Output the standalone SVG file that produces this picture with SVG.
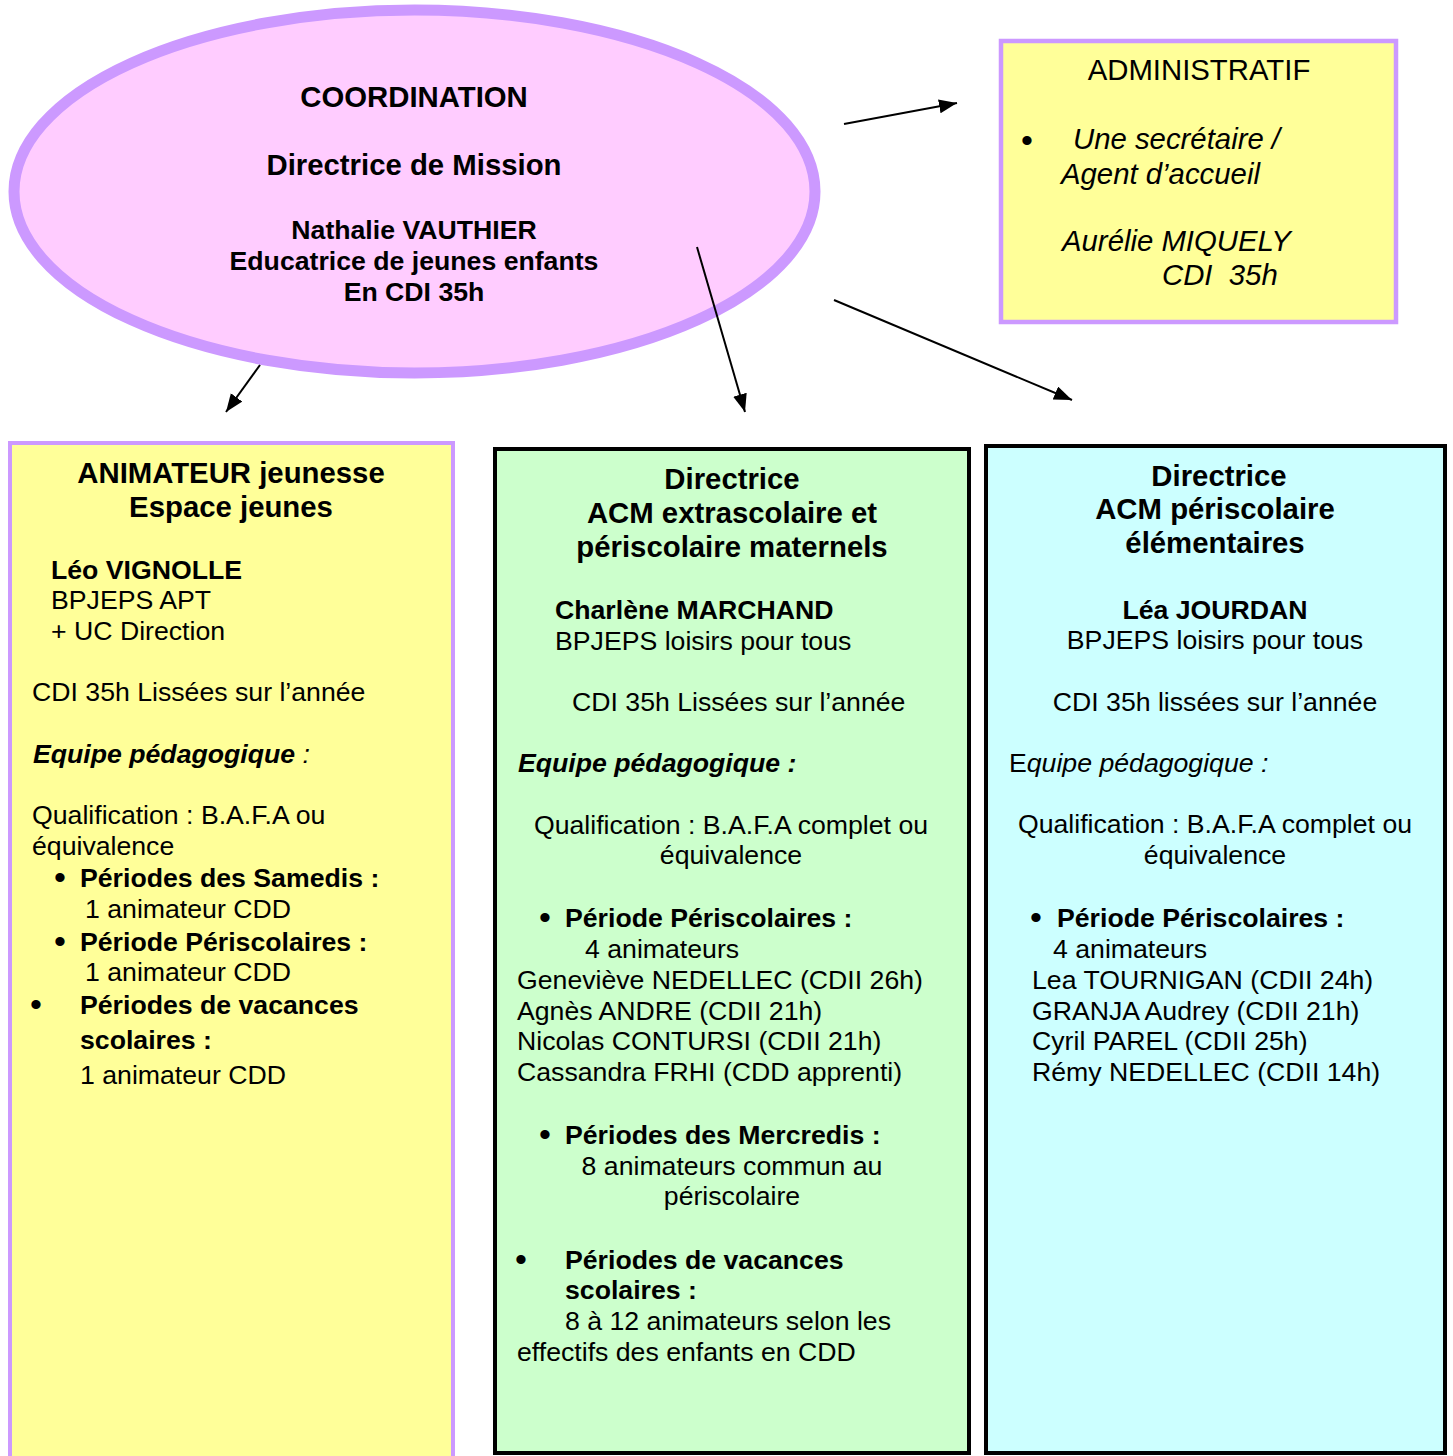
<svg xmlns="http://www.w3.org/2000/svg" width="1453" height="1456" viewBox="0 0 1453 1456">
<style>
text{font-family:"Liberation Sans",Arial,sans-serif;fill:#000}
.t{font-size:29.33px;font-weight:bold}
.n{font-size:26.67px}
.b{font-size:26.67px;font-weight:bold}
.bi{font-size:26.67px;font-weight:bold;font-style:italic}
.i{font-size:26.67px;font-style:italic}
.ai{font-size:29.33px;font-style:italic}
.a{font-size:29.33px}
.bl{font-size:34px}
.m{text-anchor:middle}
.pre{white-space:pre}
.conn line{stroke:#000;stroke-width:2;marker-end:url(#ah)}
</style>
<defs>
<marker id="ah" markerUnits="userSpaceOnUse" markerWidth="20" markerHeight="16" refX="18" refY="7" orient="auto">
<path d="M0,0 L18,7 L0,14 z" fill="#000"/>
</marker>
</defs>
<rect width="1453" height="1456" fill="#fff"/>

<g id="coordination">
<ellipse cx="414.5" cy="191.5" rx="400.5" ry="181.5" fill="#FFCCFF" stroke="#CC99FF" stroke-width="11"/>
<text class="t m" x="414" y="107">COORDINATION</text>
<text class="t m" x="414" y="175">Directrice de Mission</text>
<text class="b m" x="414" y="239">Nathalie VAUTHIER</text>
<text class="b m" x="414" y="270">Educatrice de jeunes enfants</text>
<text class="b m" x="414" y="301">En CDI 35h</text>
</g>

<g id="administratif">
<rect x="1001" y="41" width="395" height="281" fill="#FFFF99" stroke="#CC99FF" stroke-width="4.5"/>
<text class="a m" x="1199" y="80">ADMINISTRATIF</text>
<text class="bl" x="1021" y="152">•</text>
<text class="ai" x="1073" y="149">Une secrétaire /</text>
<text class="ai" x="1061" y="184">Agent d’accueil</text>
<text class="ai" x="1062" y="251">Aurélie MIQUELY</text>
<text class="ai pre" x="1162" y="285" xml:space="preserve">CDI  35h</text>
</g>

<g id="animateur">
<rect x="10" y="443" width="443" height="1030" fill="#FFFF99" stroke="#CC99FF" stroke-width="4"/>
<text class="t m" x="231" y="483">ANIMATEUR jeunesse</text>
<text class="t m" x="231" y="517">Espace jeunes</text>
<text class="b" x="51" y="579">Léo VIGNOLLE</text>
<text class="n" x="51" y="609">BPJEPS APT</text>
<text class="n" x="51" y="640">+ UC Direction</text>
<text class="n" x="32" y="701">CDI 35h Lissées sur l’année</text>
<text x="33" y="763"><tspan class="bi">Equipe pédagogique</tspan><tspan class="i"> :</tspan></text>
<text class="n" x="32" y="824">Qualification : B.A.F.A ou</text>
<text class="n" x="32" y="855">équivalence</text>
<text class="bl" x="54" y="889">•</text>
<text class="b" x="80" y="887">Périodes des Samedis :</text>
<text class="n" x="85" y="918">1 animateur CDD</text>
<text class="bl" x="54" y="953">•</text>
<text class="b" x="80" y="951">Période Périscolaires :</text>
<text class="n" x="85" y="981">1 animateur CDD</text>
<text class="bl" x="30" y="1016">•</text>
<text class="b" x="80" y="1014">Périodes de vacances</text>
<text class="b" x="80" y="1049">scolaires :</text>
<text class="n" x="80" y="1084">1 animateur CDD</text>
</g>

<g id="acm-maternels">
<rect x="495" y="449" width="474" height="1004" fill="#CCFFCC" stroke="#000" stroke-width="4"/>
<text class="t m" x="732" y="489">Directrice</text>
<text class="t m" x="732" y="523">ACM extrascolaire et</text>
<text class="t m" x="732" y="557">périscolaire maternels</text>
<text class="b" x="555" y="619">Charlène MARCHAND</text>
<text class="n" x="555" y="650">BPJEPS loisirs pour tous</text>
<text class="n" x="572" y="711">CDI 35h Lissées sur l’année</text>
<text class="bi" x="518" y="772">Equipe pédagogique :</text>
<text class="n m" x="731" y="834">Qualification : B.A.F.A complet ou</text>
<text class="n m" x="731" y="864">équivalence</text>
<text class="bl" x="539" y="929">•</text>
<text class="b" x="565" y="927">Période Périscolaires :</text>
<text class="n" x="585" y="958">4 animateurs</text>
<text class="n" x="517" y="989">Geneviève NEDELLEC (CDII 26h)</text>
<text class="n" x="517" y="1020">Agnès ANDRE (CDII 21h)</text>
<text class="n" x="517" y="1050">Nicolas CONTURSI (CDII 21h)</text>
<text class="n" x="517" y="1081">Cassandra FRHI (CDD apprenti)</text>
<text class="bl" x="539" y="1146">•</text>
<text class="b" x="565" y="1144">Périodes des Mercredis :</text>
<text class="n m" x="732" y="1175">8 animateurs commun au</text>
<text class="n m" x="732" y="1205">périscolaire</text>
<text class="bl" x="515" y="1271">•</text>
<text class="b" x="565" y="1269">Périodes de vacances</text>
<text class="b" x="565" y="1299">scolaires :</text>
<text class="n" x="565" y="1330">8 à 12 animateurs selon les</text>
<text class="n" x="517" y="1361">effectifs des enfants en CDD</text>
</g>

<g id="acm-elementaires">
<rect x="986" y="446" width="459" height="1007" fill="#CCFFFF" stroke="#000" stroke-width="4"/>
<text class="t m" x="1219" y="486">Directrice</text>
<text class="t m" x="1215" y="519">ACM périscolaire</text>
<text class="t m" x="1215" y="553">élémentaires</text>
<text class="b m" x="1215" y="619">Léa JOURDAN</text>
<text class="n m" x="1215" y="649">BPJEPS loisirs pour tous</text>
<text class="n m" x="1215" y="711">CDI 35h lissées sur l’année</text>
<text x="1009" y="772"><tspan class="n">E</tspan><tspan class="i">quipe pédagogique :</tspan></text>
<text class="n m" x="1215" y="833">Qualification : B.A.F.A complet ou</text>
<text class="n m" x="1215" y="864">équivalence</text>
<text class="bl" x="1030" y="929">•</text>
<text class="b" x="1057" y="927">Période Périscolaires :</text>
<text class="n" x="1053" y="958">4 animateurs</text>
<text class="n" x="1032" y="989">Lea TOURNIGAN (CDII 24h)</text>
<text class="n" x="1032" y="1020">GRANJA Audrey (CDII 21h)</text>
<text class="n" x="1032" y="1050">Cyril PAREL (CDII 25h)</text>
<text class="n" x="1032" y="1081">Rémy NEDELLEC (CDII 14h)</text>
</g>

<g id="connectors" class="conn">
<line x1="844" y1="124" x2="957" y2="103"/>
<line x1="697" y1="247" x2="745" y2="412"/>
<line x1="834" y1="300" x2="1072" y2="400"/>
<line x1="260" y1="365" x2="226" y2="412"/>
</g>
</svg>
